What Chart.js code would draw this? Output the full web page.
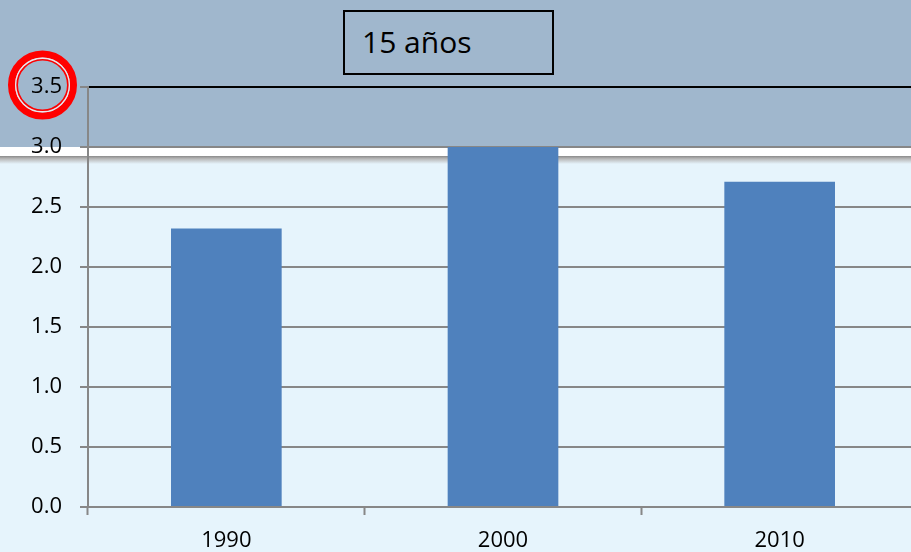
<!DOCTYPE html>
<html>
<head>
<meta charset="utf-8">
<script src="https://cdn.jsdelivr.net/npm/chart.js@4/dist/chart.umd.min.js"></script>
<style>
  html, body { margin: 0; padding: 0; overflow: hidden; background: #e6f4fc; }
  #wrap { position: relative; width: 918px; height: 552px; }
  #title {
    position: absolute; left: 343px; top: 10px; width: 207px; height: 61px;
    border: 2px solid #000; background: #a0b7cd; box-sizing: content-box;
    font-family: "Open Sans", sans-serif; font-size: 30px; color: #000;
    line-height: 60px; padding: 0; text-indent: 17px; white-space: nowrap;
  }
</style>
</head>
<body>
<div id="wrap">
  <canvas id="c" width="918" height="552"></canvas>
  <div id="title">15 años</div>
</div>
<script>
const categories = ["1990", "2000", "2010"];
const values = [2.32, 3.0, 2.71];
const yTicks = [0, 0.5, 1.0, 1.5, 2.0, 2.5, 3.0, 3.5];

const BAND = "#a0b7cd";
const LIGHT = "#e6f4fc";
const GRID = "#878787";

const bgPlugin = {
  id: "bg",
  beforeDraw(chart) {
    const ctx = chart.ctx;
    const w = chart.width, h = chart.height;
    const yb = chart.scales.y.getPixelForValue(3.0);
    ctx.save();
    ctx.fillStyle = LIGHT;
    ctx.fillRect(0, 0, w, h);
    ctx.fillStyle = BAND;
    ctx.fillRect(0, 0, w, yb);
    ctx.fillStyle = "#ffffff";
    ctx.fillRect(0, yb, w, 9);
    const g = ctx.createLinearGradient(0, yb + 9, 0, yb + 17);
    g.addColorStop(0, "#8a8a8a");
    g.addColorStop(0.35, "#b8b8b8");
    g.addColorStop(1, LIGHT);
    ctx.fillStyle = g;
    ctx.fillRect(0, yb + 9, w, 8);
    ctx.restore();
  },
  afterDraw(chart) {
    const ctx = chart.ctx;
    const cy = chart.scales.y.getPixelForValue(3.5) - 2;
    const cx = 42.5;
    ctx.save();
    ctx.strokeStyle = "#ff0000";
    ctx.lineWidth = 7;
    ctx.beginPath();
    ctx.arc(cx, cy, 31, 0, Math.PI * 2);
    ctx.stroke();
    ctx.strokeStyle = "#f0e4ea";
    ctx.lineWidth = 1.5;
    ctx.beginPath();
    ctx.arc(cx, cy, 26.8, 0, Math.PI * 2);
    ctx.stroke();
    ctx.strokeStyle = "#ff0000";
    ctx.lineWidth = 1.6;
    ctx.beginPath();
    ctx.arc(cx, cy, 25.3, 0, Math.PI * 2);
    ctx.stroke();
    ctx.restore();
  }
};

new Chart(document.getElementById("c"), {
  type: "bar",
  data: {
    labels: categories,
    datasets: [{
      data: values,
      backgroundColor: "#4f81bd",
      borderWidth: 0,
      barPercentage: 0.4,
      categoryPercentage: 1.0
    }]
  },
  options: {
    responsive: false,
    animation: false,
    devicePixelRatio: 1,
    layout: { padding: { top: 87, right: 0, bottom: 0, left: 0 } },
    plugins: { legend: { display: false }, tooltip: { enabled: false } },
    scales: {
      x: {
        offset: true,
        grid: {
          offset: true, drawOnChartArea: false, drawTicks: true,
          tickLength: 8, tickColor: GRID, tickWidth: 2
        },
        border: { display: true, color: GRID, width: 2 },
        ticks: {
          color: "#000", padding: 13,
          font: { family: "Open Sans", size: 22 }
        },
        afterFit(s) { s.height = 45; }
      },
      y: {
        min: 0, max: 3.5,
        afterBuildTicks(s) { s.ticks = yTicks.map(v => ({ value: v })); },
        grid: {
          color: (c) => (c.tick && c.tick.value === 3.5 ? "#000000" : GRID),
          lineWidth: 2, tickLength: 8, tickColor: GRID, tickWidth: 2
        },
        border: { display: true, color: GRID, width: 2 },
        ticks: {
          color: "#000", padding: 18,
          font: { family: "Open Sans", size: 22 },
          callback: (v) => Number(v).toFixed(1)
        },
        afterFit(s) { s.width = 88; }
      }
    }
  },
  plugins: [bgPlugin]
});
</script>
</body>
</html>
